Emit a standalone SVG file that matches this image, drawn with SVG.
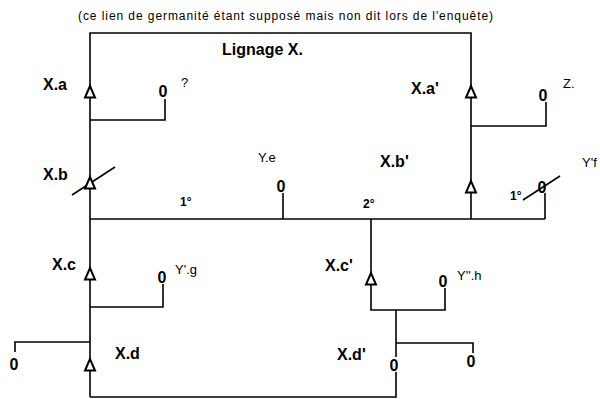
<svg xmlns="http://www.w3.org/2000/svg" width="600" height="399" viewBox="0 0 600 399">
<style>
.ln{fill:none;stroke:#000;stroke-width:1.6}
.tri{fill:#fff;stroke:#000;stroke-width:2;stroke-linejoin:miter}
.lbl{font-family:"Liberation Sans",Arial,sans-serif;font-size:16px;font-weight:bold;fill:#000}
.nm{font-family:"Liberation Sans",Arial,sans-serif;font-size:13px;fill:#000}
.z{font-family:"Liberation Sans",Arial,sans-serif;font-size:16px;font-weight:bold;fill:#000;text-anchor:middle}
.deg{font-family:"Liberation Sans",Arial,sans-serif;font-size:12px;font-weight:bold;fill:#000}
</style>
<defs>
<path id="tri" d="M0,0 L-5,11.5 L5,11.5 Z"/>
</defs>
<rect width="600" height="399" fill="#fff"/>
<text x="78" y="20" font-family="Liberation Sans,Arial,sans-serif" font-size="12" textLength="415" lengthAdjust="spacing">(ce lien de germanité étant supposé mais non dit lors de l'enquête)</text>
<text x="222" y="55" class="lbl">Lignage X.</text>
<g id="connectors">
<path class="ln" d="M90,397 V33 H471 V219"/>
<path class="ln" d="M90,219 H545"/>
<path class="ln" d="M90,397 H396 V372"/>
<path class="ln" d="M90,120 H165 V99"/>
<path class="ln" d="M471,126 H546 V102"/>
<path class="ln" d="M283,219 V193"/>
<path class="ln" d="M545,219 V193"/>
<path class="ln" d="M371,219 V310 H445 V288"/>
<path class="ln" d="M90,307 H163 V284"/>
<path class="ln" d="M90,342 H15 V352"/>
<path class="ln" d="M396,310 V357"/>
<path class="ln" d="M396,343 H473 V353"/>
<path class="ln" d="M72,195 L115,167"/>
<path class="ln" d="M523,200 L560,176"/>
</g>
<g id="Xa"><use href="#tri" class="tri" x="90" y="86"/><text x="43" y="90" class="lbl">X.a</text></g>
<g id="Xb"><use href="#tri" class="tri" x="90" y="177"/><text x="43" y="180" class="lbl">X.b</text></g>
<g id="Xc"><use href="#tri" class="tri" x="90" y="268"/><text x="52" y="270" class="lbl">X.c</text></g>
<g id="Xd"><use href="#tri" class="tri" x="90" y="359"/><text x="115" y="359" class="lbl">X.d</text></g>
<g id="Xa2"><use href="#tri" class="tri" x="471" y="86"/><text x="411" y="94" class="lbl">X.a'</text></g>
<g id="Xb2"><use href="#tri" class="tri" x="471" y="181"/><text x="380" y="167" class="lbl">X.b'</text></g>
<g id="Xc2"><use href="#tri" class="tri" x="371" y="273"/><text x="325" y="271" class="lbl">X.c'</text></g>
<g id="Xd2"><text x="337" y="360" class="lbl">X.d'</text><text x="394" y="371" class="z">0</text></g>
<g id="spouse-q"><text x="163" y="97" class="z">0</text><text x="181" y="87" class="nm">?</text></g>
<g id="spouse-Z"><text x="543" y="101" class="z">0</text><text x="563" y="88" class="nm">Z.</text></g>
<g id="spouse-Ye"><text x="281" y="192" class="z">0</text><text x="258" y="162" class="nm">Y.e</text></g>
<g id="spouse-Yf"><text x="542" y="193" class="z">0</text><text x="582" y="167" class="nm">Y'f</text></g>
<g id="spouse-Yg"><text x="162" y="283" class="z">0</text><text x="175" y="274" class="nm">Y'.g</text></g>
<g id="spouse-Yh"><text x="443" y="287" class="z">0</text><text x="457" y="280" class="nm">Y''.h</text></g>
<g id="spouse-left"><text x="14" y="370" class="z">0</text></g>
<g id="spouse-right"><text x="471" y="367" class="z">0</text></g>
<g id="rank-labels">
<text x="180" y="206" class="deg">1°</text>
<text x="363" y="208" class="deg">2°</text>
<text x="510" y="200" class="deg">1°</text>
</g>
</svg>
